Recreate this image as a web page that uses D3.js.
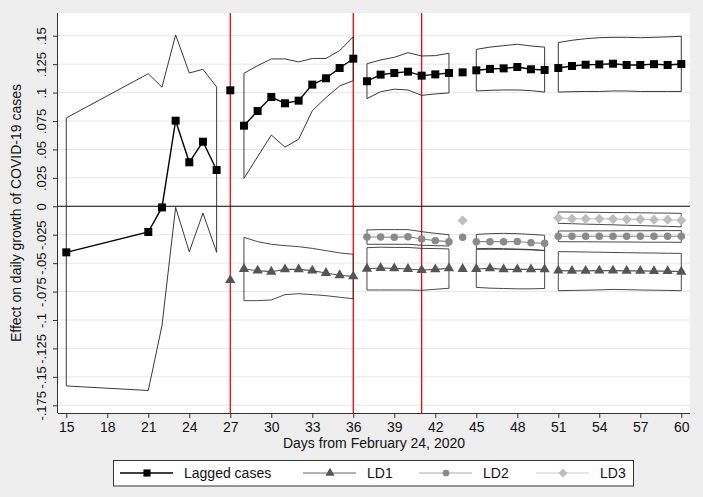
<!DOCTYPE html>
<html><head><meta charset="utf-8">
<script src="https://cdn.jsdelivr.net/npm/d3@7/dist/d3.min.js"></script>
<style>body{margin:0;background:#eeeeee;} svg{display:block;font-family:"Liberation Sans",Arial,sans-serif;}</style>
</head><body>
<svg id="c" width="703" height="497"></svg>
<script>
// ---- data ----
const days = [15,21,22,23,24,25,26,27,28,29,30,31,32,33,34,35,36,37,38,39,40,41,42,43,44,45,46,47,48,49,50,51,52,53,54,55,56,57,58,59,60];
// segment id per day (0 = isolated estimate, no interval)
const segment = [1,1,1,1,1,1,1,0,2,2,2,2,2,2,2,2,2,3,3,3,3,3,3,3,0,4,4,4,4,4,4,5,5,5,5,5,5,5,5,5,5];
const N = null;
const laggedEst = [-0.0405,-0.0226,-0.001,0.0753,0.0387,0.0568,0.0319,0.102,0.0709,0.0838,0.0961,0.0906,0.0929,0.107,0.1126,0.1216,0.1298,0.110,0.1158,0.1172,0.1184,0.1149,0.116,0.1172,0.1178,0.1196,0.1208,0.1213,0.1225,0.1205,0.1199,0.1216,0.1234,0.1245,0.1248,0.1254,0.1243,0.1243,0.125,0.1243,0.1251];
const laggedHi = [0.0777,0.1166,0.1047,0.1507,0.1172,0.1205,0.1049,N,0.117,0.1237,0.1296,0.1296,0.127,0.130,0.130,0.1369,0.149,0.1254,0.1287,0.131,0.1351,0.1322,0.1325,0.1346,N,0.138,0.140,0.1413,0.1425,0.141,0.140,0.144,0.146,0.1474,0.1483,0.1486,0.1486,0.1483,0.1486,0.149,0.1495];
const laggedLo = [-0.158,-0.162,-0.105,-0.001,-0.040,-0.006,-0.0405,N,0.0246,0.0436,0.0627,0.052,0.059,0.084,0.0956,0.1058,0.1105,0.0947,0.1008,0.103,0.1023,0.0976,0.0988,0.0997,N,0.1014,0.102,0.1023,0.1023,0.1017,0.1005,0.1005,0.1008,0.101,0.101,0.1014,0.1014,0.101,0.101,0.101,0.101];
const ld1Est = [N,N,N,N,N,N,N,-0.0649,-0.0552,-0.0566,-0.0575,-0.0555,-0.0555,-0.0566,-0.0587,-0.0607,-0.0616,-0.0549,-0.0543,-0.0546,-0.0552,-0.056,-0.0555,-0.0546,-0.0552,-0.0552,-0.0546,-0.0555,-0.0555,-0.0555,-0.0555,-0.0566,-0.0568,-0.0568,-0.0566,-0.0566,-0.0568,-0.0568,-0.057,-0.057,-0.0575];
const ld1Hi = [N,N,N,N,N,N,N,N,-0.0273,-0.0311,-0.0334,-0.0346,-0.0355,-0.037,-0.039,-0.041,-0.0422,-0.0364,-0.036,-0.0362,-0.0362,-0.037,-0.0372,-0.0375,N,-0.0378,-0.0378,-0.0378,-0.038,-0.0383,-0.0388,-0.0399,-0.040,-0.0402,-0.0404,-0.0406,-0.0408,-0.041,-0.0411,-0.0413,-0.0414];
const ld1Lo = [N,N,N,N,N,N,N,N,-0.083,-0.083,-0.0824,-0.0777,-0.0769,-0.0777,-0.0786,-0.080,-0.0813,-0.0736,-0.0736,-0.0736,-0.0736,-0.0739,-0.073,-0.0721,N,-0.0713,-0.072,-0.0723,-0.0726,-0.0726,-0.0723,-0.0742,-0.074,-0.0738,-0.0735,-0.0731,-0.0733,-0.0736,-0.0738,-0.074,-0.0742];
const ld2Est = [N,N,N,N,N,N,N,N,N,N,N,N,N,N,N,N,N,-0.027,-0.027,-0.0273,-0.0267,-0.0288,-0.0302,-0.0311,-0.0273,-0.0311,-0.0311,-0.0311,-0.031,-0.032,-0.0326,-0.0264,-0.0264,-0.0264,-0.0264,-0.0264,-0.0264,-0.0264,-0.0264,-0.0264,-0.0264];
const ld2Hi = [N,N,N,N,N,N,N,N,N,N,N,N,N,N,N,N,N,-0.0208,-0.0205,-0.0205,-0.0205,-0.0223,-0.0238,-0.025,N,-0.0247,-0.0241,-0.0238,-0.0241,-0.0247,-0.0255,-0.0217,-0.0217,-0.0216,-0.0216,-0.0216,-0.0215,-0.0215,-0.0215,-0.0214,-0.0214];
const ld2Lo = [N,N,N,N,N,N,N,N,N,N,N,N,N,N,N,N,N,-0.0334,-0.0334,-0.0334,-0.0334,-0.0343,-0.0346,-0.0349,N,-0.0373,-0.037,-0.0373,-0.0376,-0.038,-0.039,-0.0311,-0.0312,-0.0312,-0.0313,-0.0314,-0.0314,-0.0315,-0.0316,-0.0316,-0.0317];
const ld3Est = [N,N,N,N,N,N,N,N,N,N,N,N,N,N,N,N,N,N,N,N,N,N,N,N,-0.0125,N,N,N,N,N,N,-0.0103,-0.011,-0.011,-0.011,-0.0112,-0.0115,-0.0115,-0.0118,-0.0118,-0.0123];
const ld3Hi = [N,N,N,N,N,N,N,N,N,N,N,N,N,N,N,N,N,N,N,N,N,N,N,N,N,N,N,N,N,N,N,-0.005,-0.0051,-0.0052,-0.0054,-0.0055,-0.0056,-0.0057,-0.0059,-0.006,-0.0062];
const ld3Lo = [N,N,N,N,N,N,N,N,N,N,N,N,N,N,N,N,N,N,N,N,N,N,N,N,N,N,N,N,N,N,N,-0.015,-0.0153,-0.0157,-0.016,-0.0163,-0.0167,-0.017,-0.0173,-0.0177,-0.018];
const cutoffDays = [27,36,41];
const xTicks = [15,18,21,24,27,30,33,36,39,42,45,48,51,54,57,60];
const yTicks = [0.15,0.125,0.1,0.075,0.05,0.025,0,-0.025,-0.05,-0.075,-0.1,-0.125,-0.15,-0.175];
const yTickLabels = [".15",".125",".1",".075",".05",".025","0","-.025","-.05","-.075","-.1","-.125","-.15","-.175"];
const seriesNames = ["Lagged cases","LD1","LD2","LD3"];
const xTitle = "Days from February 24, 2020";
const yTitle = "Effect on daily growth of COVID-19 cases";

// ---- layout ----
const L = 58, R = 690, T = 13, B = 413;
const x = d3.scaleLinear().domain([14.393, 60.637]).range([L, R]);
const y = d3.scaleLinear().domain([-0.1818, 0.170]).range([B, T]);
const svg = d3.select("#c");

svg.append("rect").attr("x",0).attr("y",0).attr("width",703).attr("height",497).attr("fill","#eeeeee");
svg.append("rect").attr("x",L).attr("y",T).attr("width",R-L).attr("height",B-T).attr("fill","#ffffff");

// gridlines
svg.append("g").selectAll("line").data(yTicks.filter(v=>v!==0)).join("line")
  .attr("x1",L).attr("x2",R).attr("y1",d=>y(d)).attr("y2",d=>y(d))
  .attr("stroke","#e6e6e6").attr("stroke-width",1);

// cutoff red lines
svg.append("g").selectAll("line").data(cutoffDays).join("line")
  .attr("x1",d=>x(d)).attr("x2",d=>x(d)).attr("y1",T).attr("y2",B)
  .attr("stroke","#ff0000").attr("stroke-width",1.3);

// zero line
svg.append("line").attr("x1",L).attr("x2",R).attr("y1",y(0)).attr("y2",y(0)).attr("stroke","#000").attr("stroke-width",1.1);

// square-diamond (rotated square) symbol
const symbolDiamondSq = {
  draw(ctx, size) {
    const r = Math.sqrt(size / 2);
    ctx.moveTo(0, -r); ctx.lineTo(r, 0); ctx.lineTo(0, r); ctx.lineTo(-r, 0); ctx.closePath();
  }
};

const styles = [
  {est:laggedEst, hi:laggedHi, lo:laggedLo, line:"#000000", lw:1.4, mark:"#000000", sym:d3.symbolSquare, size:64, ci:"#222"},
  {est:ld1Est, hi:ld1Hi, lo:ld1Lo, line:"#555555", lw:1.1, mark:"#555555", sym:d3.symbolTriangle, size:46, ci:"#333"},
  {est:ld2Est, hi:ld2Hi, lo:ld2Lo, line:"#888888", lw:1.1, mark:"#8a8a8a", sym:d3.symbolCircle, size:44, ci:"#333"},
  {est:ld3Est, hi:ld3Hi, lo:ld3Lo, line:"#bbbbbb", lw:1.1, mark:"#bdbdbd", sym:symbolDiamondSq, size:52, ci:"#333"}
];

const segIds = Array.from(new Set(segment.filter(s=>s>0)));
const lineGen = d3.line().x(d=>x(d.day)).y(d=>y(d.v));

// CI polygons
styles.forEach(s=>{
  segIds.forEach(id=>{
    const pts = days.map((d,i)=>({day:d, hi:s.hi[i], lo:s.lo[i], seg:segment[i]}))
      .filter(p=>p.seg===id && p.hi!==null && p.lo!==null);
    if (pts.length<2) return;
    const poly = pts.map(p=>[x(p.day),y(p.hi)]).concat(pts.slice().reverse().map(p=>[x(p.day),y(p.lo)]));
    svg.append("path").attr("d","M"+poly.map(p=>p.join(",")).join("L")+"Z")
      .attr("fill","none").attr("stroke",s.ci).attr("stroke-width",0.9);
  });
});

// estimate lines + markers
styles.forEach(s=>{
  segIds.forEach(id=>{
    const pts = days.map((d,i)=>({day:d, v:s.est[i], seg:segment[i]})).filter(p=>p.seg===id && p.v!==null);
    if (pts.length<2) return;
    svg.append("path").attr("d",lineGen(pts)).attr("fill","none").attr("stroke",s.line).attr("stroke-width",s.lw);
  });
});
styles.forEach(s=>{
  const pts = days.map((d,i)=>({day:d, v:s.est[i]})).filter(p=>p.v!==null);
  svg.append("g").selectAll("path").data(pts).join("path")
    .attr("d",d3.symbol().type(s.sym).size(s.size))
    .attr("transform",d=>`translate(${x(d.day)},${y(d.v)})`)
    .attr("fill",s.mark);
});

// axes
const ax = svg.append("g").attr("transform",`translate(0,${B})`).call(d3.axisBottom(x).tickValues(xTicks).tickSize(5).tickPadding(4).tickFormat(d3.format("d")));
ax.select(".domain").attr("stroke","#333").attr("d",`M${L},0.5H${R}`);
ax.selectAll(".tick line").attr("stroke","#333");
ax.selectAll(".tick text").attr("font-size",14).attr("fill","#111").attr("font-family","Liberation Sans, Arial, sans-serif");

const ay = svg.append("g").attr("transform",`translate(${L},0)`).call(d3.axisLeft(y).tickValues(yTicks).tickSize(5).tickFormat((d,i)=>yTickLabels[i]));
ay.select(".domain").attr("stroke","#333").attr("d",`M-0.5,${T}V${B}`);
ay.selectAll(".tick line").attr("stroke","#333");
ay.selectAll(".tick text").attr("font-size",13).attr("fill","#111").attr("font-family","Liberation Sans, Arial, sans-serif")
  .attr("text-anchor","middle").attr("dy",0).attr("x",0)
  .attr("transform","translate(-12,0) rotate(-90)");

// titles
svg.append("text").attr("x",(L+R)/2).attr("y",448).attr("text-anchor","middle").attr("font-size",14).attr("fill","#111").text(xTitle);
svg.append("text").attr("transform",`translate(21,${(T+B)/2}) rotate(-90)`).attr("text-anchor","middle").attr("font-size",14).attr("fill","#111").text(yTitle);

// legend
const lg = svg.append("g");
lg.append("rect").attr("x",113.5).attr("y",460.5).attr("width",520).attr("height",25.5).attr("fill","#fff").attr("stroke","#333").attr("stroke-width",1);
const keyX = [120, 303, 419, 536];
const keyLine = ["#000000","#666666","#aaaaaa","#cccccc"];
const ly = 473;
styles.forEach((s,i)=>{
  lg.append("line").attr("x1",keyX[i]).attr("x2",keyX[i]+53).attr("y1",ly).attr("y2",ly).attr("stroke",keyLine[i]).attr("stroke-width",i===0?1.3:1);
  lg.append("path").attr("d",d3.symbol().type(s.sym).size(s.size*0.8)).attr("transform",`translate(${keyX[i]+27},${ly})`).attr("fill",s.mark);
  lg.append("text").attr("x",keyX[i]+64).attr("y",ly+5).attr("font-size",14).attr("fill","#111").text(seriesNames[i]);
});
</script>
</body></html>
